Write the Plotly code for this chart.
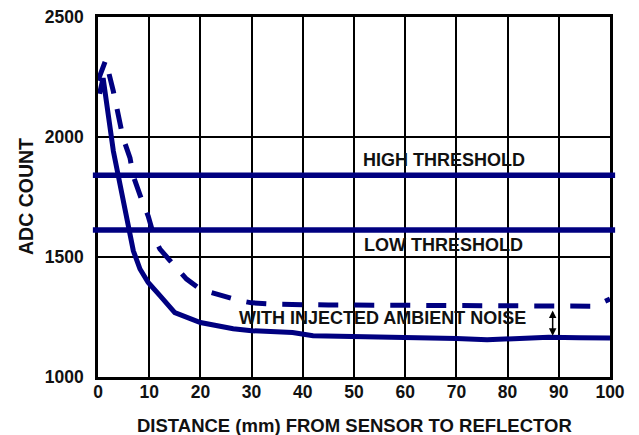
import plotly.graph_objects as go

# ---- data ----
solid_x = [0.3, 1.0, 3.0, 4.6, 5.9, 6.9, 8.2, 9.8, 12.1, 15, 20, 26.4, 30, 38, 42, 50, 60, 70, 76, 82, 88, 94, 100]
solid_y = [2180, 2245, 1941, 1761, 1616, 1526, 1450, 1394, 1339, 1268, 1227, 1201, 1193, 1185, 1172, 1169, 1167, 1160, 1155, 1160, 1166, 1164, 1162]

dashed_x = [0, 1.5, 3.0, 4.9, 6.25, 6.9, 8.5, 9.8, 11.1, 12.1, 14.1, 17.3, 20, 24, 27.7, 30, 35, 45, 55, 65, 75, 85, 90, 97, 100]
dashed_y = [2235, 2320, 2190, 1996, 1913, 1837, 1740, 1671, 1574, 1533, 1484, 1408, 1365, 1339, 1318, 1309, 1303, 1300, 1300, 1298, 1297, 1296, 1295, 1295, 1325]

threshold_names = ["HIGH THRESHOLD", "LOW THRESHOLD"]
threshold_values = [1841, 1613]
threshold_label_x = [67.5, 67.5]
threshold_label_y = [1903, 1548]

noise_label = "WITH INJECTED AMBIENT NOISE"
noise_label_pos = [55.5, 1246]
noise_arrow_x = 88.8
noise_arrow_y = [1283, 1172]

x_ticks = [0, 10, 20, 30, 40, 50, 60, 70, 80, 90, 100]
y_ticks = [1000, 1500, 2000, 2500]

x_title = "DISTANCE (mm) FROM SENSOR TO REFLECTOR"
y_title = "ADC COUNT"

NAVY = "#000080"
FONT = "Liberation Sans, Arial, sans-serif"

fig = go.Figure()
fig.add_trace(go.Scatter(x=dashed_x, y=dashed_y, mode="lines",
                         line=dict(color=NAVY, width=5, dash="20px,16px"),
                         showlegend=False, hoverinfo="skip"))
fig.add_trace(go.Scatter(x=solid_x, y=solid_y, mode="lines",
                         line=dict(color=NAVY, width=5),
                         showlegend=False, hoverinfo="skip"))

for v in threshold_values:
    fig.add_shape(type="line", xref="paper", yref="y", x0=-0.01, x1=1.01,
                  y0=v, y1=v, line=dict(color=NAVY, width=5.5), layer="above")

annfont = dict(family=FONT, size=18, color="#111111", weight="bold")
for name, lx, ly in zip(threshold_names, threshold_label_x, threshold_label_y):
    fig.add_annotation(x=lx, y=ly, text=name, showarrow=False, font=annfont,
                       xanchor="center", yanchor="middle")

fig.add_annotation(x=noise_label_pos[0], y=noise_label_pos[1], text=noise_label,
                   showarrow=False, font=annfont, xanchor="center", yanchor="middle")

fig.add_annotation(x=noise_arrow_x, y=noise_arrow_y[1], ax=noise_arrow_x, ay=noise_arrow_y[0],
                   xref="x", yref="y", axref="x", ayref="y", text="", showarrow=True,
                   arrowhead=2, startarrowhead=2, arrowside="end+start",
                   arrowsize=1, startarrowsize=1, arrowwidth=1.5, arrowcolor="black",
                   standoff=0, startstandoff=0)

# axis titles
fig.add_annotation(xref="paper", yref="paper", x=0.5, y=0, yshift=-48,
                   text=x_title, showarrow=False,
                   font=dict(family=FONT, size=18.5, color="#111111", weight="bold"),
                   xanchor="center", yanchor="middle")
fig.add_annotation(xref="paper", yref="paper", x=0, y=0.5, xshift=-72,
                   text=y_title, showarrow=False, textangle=-90,
                   font=dict(family=FONT, size=19.5, color="#111111", weight="bold"),
                   xanchor="center", yanchor="middle")

tickfont = dict(family=FONT, size=17.5, color="#111111", weight="bold")
fig.update_xaxes(range=[0, 100], tickvals=x_ticks, ticks="", ticklen=0, showgrid=True,
                 gridcolor="black", gridwidth=2, showline=True, linecolor="black",
                 linewidth=2.5, mirror=True, zeroline=False, tickfont=tickfont,
                 ticklabelstandoff=-3)
fig.update_yaxes(range=[1000, 2500], tickvals=y_ticks, ticks="", ticklen=0, showgrid=True,
                 gridcolor="black", gridwidth=2, showline=True, linecolor="black",
                 linewidth=2.5, mirror=True, zeroline=False, tickfont=tickfont,
                 ticklabelstandoff=8)

fig.update_layout(width=639, height=435, margin=dict(l=98, r=29, t=7, b=58),
                  plot_bgcolor="white", paper_bgcolor="white")

fig.write_html("out.html")
